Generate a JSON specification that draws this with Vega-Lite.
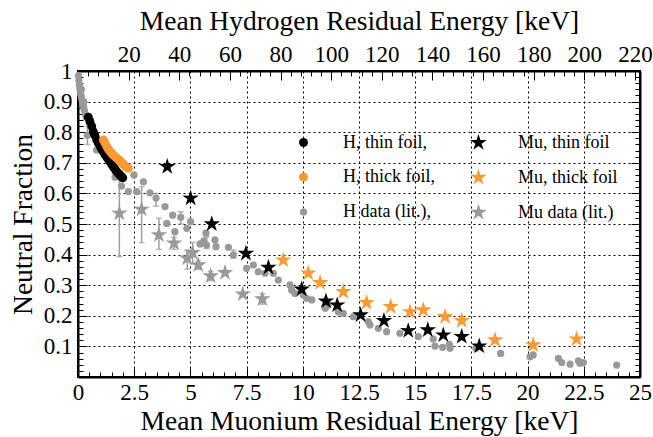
{
  "$schema": "https://vega.github.io/schema/vega-lite/v6.json",
  "width": 562,
  "height": 306,
  "autosize": "none",
  "padding": {"left": 78, "top": 71, "right": 13, "bottom": 60},
  "background": "white",
  "config": {
    "view": {"stroke": "black", "strokeWidth": 2},
    "font": "Liberation Serif",
    "axis": {
      "domainColor": "black", "domainWidth": 2,
      "tickColor": "black", "tickWidth": 1,
      "labelFont": "Liberation Serif", "labelFontSize": 23, "labelColor": "black",
      "titleFont": "Liberation Serif", "titleFontSize": 27.5, "titleFontWeight": "normal", "titleColor": "black",
      "gridColor": "black", "gridDash": [2, 3], "gridWidth": 1,
      "labelOverlap": false, "labelFlush": false
    },
    "legend": {"labelFont": "Liberation Serif"}
  },
  "datasets": {
    "pts": [
      {"series": "H data (lit.),", "mu": 0.02, "nf": 0.985},
      {"series": "H data (lit.),", "mu": 0.04, "nf": 0.97},
      {"series": "H data (lit.),", "mu": 0.06, "nf": 0.955},
      {"series": "H data (lit.),", "mu": 0.08, "nf": 0.945},
      {"series": "H data (lit.),", "mu": 0.1, "nf": 0.935},
      {"series": "H data (lit.),", "mu": 0.12, "nf": 0.925},
      {"series": "H data (lit.),", "mu": 0.15, "nf": 0.915},
      {"series": "H data (lit.),", "mu": 0.18, "nf": 0.905},
      {"series": "H data (lit.),", "mu": 0.21, "nf": 0.895},
      {"series": "H data (lit.),", "mu": 0.24, "nf": 0.885},
      {"series": "H data (lit.),", "mu": 0.28, "nf": 0.872},
      {"series": "H data (lit.),", "mu": 0.32, "nf": 0.86},
      {"series": "H data (lit.),", "mu": 0.36, "nf": 0.85},
      {"series": "H data (lit.),", "mu": 0.25, "nf": 0.9},
      {"series": "H data (lit.),", "mu": 0.15, "nf": 0.94},
      {"series": "H data (lit.),", "mu": 0.42, "nf": 0.79, "lo": 0.76, "hi": 0.82},
      {"series": "H data (lit.),", "mu": 0.83, "nf": 0.742},
      {"series": "H data (lit.),", "mu": 1.65, "nf": 0.653},
      {"series": "H data (lit.),", "mu": 1.94, "nf": 0.624},
      {"series": "H data (lit.),", "mu": 2.24, "nf": 0.606},
      {"series": "H data (lit.),", "mu": 2.49, "nf": 0.66},
      {"series": "H data (lit.),", "mu": 2.61, "nf": 0.606},
      {"series": "H data (lit.),", "mu": 2.91, "nf": 0.638},
      {"series": "H data (lit.),", "mu": 3.2, "nf": 0.602},
      {"series": "H data (lit.),", "mu": 3.47, "nf": 0.585, "lo": 0.558, "hi": 0.6},
      {"series": "H data (lit.),", "mu": 3.87, "nf": 0.557},
      {"series": "H data (lit.),", "mu": 3.95, "nf": 0.502},
      {"series": "H data (lit.),", "mu": 4.21, "nf": 0.529},
      {"series": "H data (lit.),", "mu": 4.31, "nf": 0.475},
      {"series": "H data (lit.),", "mu": 4.57, "nf": 0.522, "lo": 0.5, "hi": 0.54},
      {"series": "H data (lit.),", "mu": 4.84, "nf": 0.486},
      {"series": "H data (lit.),", "mu": 5.01, "nf": 0.508},
      {"series": "H data (lit.),", "mu": 5.43, "nf": 0.435},
      {"series": "H data (lit.),", "mu": 5.6, "nf": 0.445},
      {"series": "H data (lit.),", "mu": 5.69, "nf": 0.47},
      {"series": "H data (lit.),", "mu": 5.72, "nf": 0.431, "lo": 0.42, "hi": 0.458},
      {"series": "H data (lit.),", "mu": 6.09, "nf": 0.448},
      {"series": "H data (lit.),", "mu": 6.14, "nf": 0.426},
      {"series": "H data (lit.),", "mu": 6.69, "nf": 0.424},
      {"series": "H data (lit.),", "mu": 6.91, "nf": 0.399, "lo": 0.388, "hi": 0.415},
      {"series": "H data (lit.),", "mu": 7.5, "nf": 0.355},
      {"series": "H data (lit.),", "mu": 7.8, "nf": 0.366},
      {"series": "H data (lit.),", "mu": 8.02, "nf": 0.344},
      {"series": "H data (lit.),", "mu": 8.32, "nf": 0.339},
      {"series": "H data (lit.),", "mu": 8.69, "nf": 0.339},
      {"series": "H data (lit.),", "mu": 8.91, "nf": 0.317},
      {"series": "H data (lit.),", "mu": 9.43, "nf": 0.301},
      {"series": "H data (lit.),", "mu": 9.5, "nf": 0.284},
      {"series": "H data (lit.),", "mu": 9.65, "nf": 0.273},
      {"series": "H data (lit.),", "mu": 10.02, "nf": 0.268},
      {"series": "H data (lit.),", "mu": 10.17, "nf": 0.257},
      {"series": "H data (lit.),", "mu": 10.4, "nf": 0.252},
      {"series": "H data (lit.),", "mu": 11.0, "nf": 0.225},
      {"series": "H data (lit.),", "mu": 11.13, "nf": 0.235},
      {"series": "H data (lit.),", "mu": 11.58, "nf": 0.213},
      {"series": "H data (lit.),", "mu": 11.8, "nf": 0.208},
      {"series": "H data (lit.),", "mu": 12.25, "nf": 0.197},
      {"series": "H data (lit.),", "mu": 12.91, "nf": 0.181},
      {"series": "H data (lit.),", "mu": 12.99, "nf": 0.17},
      {"series": "H data (lit.),", "mu": 13.36, "nf": 0.159},
      {"series": "H data (lit.),", "mu": 13.73, "nf": 0.148},
      {"series": "H data (lit.),", "mu": 14.32, "nf": 0.143},
      {"series": "H data (lit.),", "mu": 15.14, "nf": 0.132},
      {"series": "H data (lit.),", "mu": 15.8, "nf": 0.124},
      {"series": "H data (lit.),", "mu": 15.88, "nf": 0.101},
      {"series": "H data (lit.),", "mu": 16.22, "nf": 0.097},
      {"series": "H data (lit.),", "mu": 16.52, "nf": 0.107},
      {"series": "H data (lit.),", "mu": 16.55, "nf": 0.094},
      {"series": "H data (lit.),", "mu": 17.7, "nf": 0.094},
      {"series": "H data (lit.),", "mu": 18.8, "nf": 0.077},
      {"series": "H data (lit.),", "mu": 20.11, "nf": 0.066},
      {"series": "H data (lit.),", "mu": 20.25, "nf": 0.072},
      {"series": "H data (lit.),", "mu": 21.37, "nf": 0.061},
      {"series": "H data (lit.),", "mu": 21.52, "nf": 0.047},
      {"series": "H data (lit.),", "mu": 21.89, "nf": 0.042},
      {"series": "H data (lit.),", "mu": 22.26, "nf": 0.053},
      {"series": "H data (lit.),", "mu": 22.33, "nf": 0.045},
      {"series": "H data (lit.),", "mu": 22.48, "nf": 0.047},
      {"series": "H data (lit.),", "mu": 23.96, "nf": 0.039},
      {"series": "Mu data (lit.)", "mu": 1.84, "nf": 0.535, "lo": 0.393, "hi": 0.671},
      {"series": "Mu data (lit.)", "mu": 2.83, "nf": 0.548, "lo": 0.439, "hi": 0.622},
      {"series": "Mu data (lit.)", "mu": 3.6, "nf": 0.464, "lo": 0.417, "hi": 0.519},
      {"series": "Mu data (lit.)", "mu": 4.27, "nf": 0.437, "lo": 0.417, "hi": 0.457},
      {"series": "Mu data (lit.)", "mu": 4.86, "nf": 0.388, "lo": 0.352, "hi": 0.415},
      {"series": "Mu data (lit.)", "mu": 5.1, "nf": 0.406, "lo": 0.37, "hi": 0.44},
      {"series": "Mu data (lit.)", "mu": 5.35, "nf": 0.366, "lo": 0.352, "hi": 0.38},
      {"series": "Mu data (lit.)", "mu": 5.9, "nf": 0.33, "lo": 0.315, "hi": 0.345},
      {"series": "Mu data (lit.)", "mu": 6.54, "nf": 0.341},
      {"series": "Mu data (lit.)", "mu": 7.33, "nf": 0.271},
      {"series": "Mu data (lit.)", "mu": 8.2, "nf": 0.255, "lo": 0.238, "hi": 0.272},
      {"series": "H, thin foil,", "mu": 0.46, "nf": 0.849},
      {"series": "H, thin foil,", "mu": 0.53, "nf": 0.835},
      {"series": "H, thin foil,", "mu": 0.61, "nf": 0.82},
      {"series": "H, thin foil,", "mu": 0.68, "nf": 0.802},
      {"series": "H, thin foil,", "mu": 0.75, "nf": 0.79},
      {"series": "H, thin foil,", "mu": 0.83, "nf": 0.775},
      {"series": "H, thin foil,", "mu": 0.9, "nf": 0.765},
      {"series": "H, thin foil,", "mu": 0.98, "nf": 0.755},
      {"series": "H, thin foil,", "mu": 1.05, "nf": 0.745},
      {"series": "H, thin foil,", "mu": 1.13, "nf": 0.736},
      {"series": "H, thin foil,", "mu": 1.2, "nf": 0.727},
      {"series": "H, thin foil,", "mu": 1.28, "nf": 0.719},
      {"series": "H, thin foil,", "mu": 1.35, "nf": 0.711},
      {"series": "H, thin foil,", "mu": 1.42, "nf": 0.704},
      {"series": "H, thin foil,", "mu": 1.5, "nf": 0.695},
      {"series": "H, thin foil,", "mu": 1.57, "nf": 0.687},
      {"series": "H, thin foil,", "mu": 1.65, "nf": 0.679},
      {"series": "H, thin foil,", "mu": 1.72, "nf": 0.671},
      {"series": "H, thin foil,", "mu": 1.8, "nf": 0.665},
      {"series": "H, thin foil,", "mu": 1.87, "nf": 0.66},
      {"series": "H, thin foil,", "mu": 1.93, "nf": 0.655},
      {"series": "H, thin foil,", "mu": 1.99, "nf": 0.651},
      {"series": "H, thick foil,", "mu": 1.13, "nf": 0.775},
      {"series": "H, thick foil,", "mu": 1.2, "nf": 0.765},
      {"series": "H, thick foil,", "mu": 1.28, "nf": 0.753},
      {"series": "H, thick foil,", "mu": 1.35, "nf": 0.745},
      {"series": "H, thick foil,", "mu": 1.42, "nf": 0.738},
      {"series": "H, thick foil,", "mu": 1.5, "nf": 0.731},
      {"series": "H, thick foil,", "mu": 1.57, "nf": 0.725},
      {"series": "H, thick foil,", "mu": 1.65, "nf": 0.72},
      {"series": "H, thick foil,", "mu": 1.72, "nf": 0.715},
      {"series": "H, thick foil,", "mu": 1.8, "nf": 0.71},
      {"series": "H, thick foil,", "mu": 1.87, "nf": 0.707},
      {"series": "H, thick foil,", "mu": 1.95, "nf": 0.7},
      {"series": "H, thick foil,", "mu": 2.02, "nf": 0.695},
      {"series": "H, thick foil,", "mu": 2.09, "nf": 0.69},
      {"series": "H, thick foil,", "mu": 2.16, "nf": 0.686},
      {"series": "H, thick foil,", "mu": 2.24, "nf": 0.682},
      {"series": "Mu, thin foil", "mu": 3.97, "nf": 0.687},
      {"series": "Mu, thin foil", "mu": 5.01, "nf": 0.584},
      {"series": "Mu, thin foil", "mu": 5.95, "nf": 0.5},
      {"series": "Mu, thin foil", "mu": 7.47, "nf": 0.404},
      {"series": "Mu, thin foil", "mu": 8.47, "nf": 0.358},
      {"series": "Mu, thin foil", "mu": 9.95, "nf": 0.287},
      {"series": "Mu, thin foil", "mu": 11.03, "nf": 0.248},
      {"series": "Mu, thin foil", "mu": 11.53, "nf": 0.235},
      {"series": "Mu, thin foil", "mu": 12.57, "nf": 0.203},
      {"series": "Mu, thin foil", "mu": 13.61, "nf": 0.184},
      {"series": "Mu, thin foil", "mu": 14.69, "nf": 0.151},
      {"series": "Mu, thin foil", "mu": 15.56, "nf": 0.154},
      {"series": "Mu, thin foil", "mu": 16.25, "nf": 0.137},
      {"series": "Mu, thin foil", "mu": 17.07, "nf": 0.132},
      {"series": "Mu, thin foil", "mu": 17.85, "nf": 0.101},
      {"series": "Mu, thick foil", "mu": 9.13, "nf": 0.382},
      {"series": "Mu, thick foil", "mu": 10.24, "nf": 0.339},
      {"series": "Mu, thick foil", "mu": 10.77, "nf": 0.308},
      {"series": "Mu, thick foil", "mu": 11.8, "nf": 0.279},
      {"series": "Mu, thick foil", "mu": 12.84, "nf": 0.243},
      {"series": "Mu, thick foil", "mu": 13.91, "nf": 0.23},
      {"series": "Mu, thick foil", "mu": 14.77, "nf": 0.213},
      {"series": "Mu, thick foil", "mu": 15.36, "nf": 0.219},
      {"series": "Mu, thick foil", "mu": 16.33, "nf": 0.197},
      {"series": "Mu, thick foil", "mu": 17.07, "nf": 0.184},
      {"series": "Mu, thick foil", "mu": 18.55, "nf": 0.121},
      {"series": "Mu, thick foil", "mu": 20.25, "nf": 0.105},
      {"series": "Mu, thick foil", "mu": 22.18, "nf": 0.124}
    ]
  },
  "layer": [
    {
      "data": {"name": "pts"},
      "encoding": {
        "x": {
          "field": "mu", "type": "quantitative",
          "scale": {"domain": [0, 25], "nice": false},
          "axis": {
            "orient": "bottom",
            "title": "Mean Muonium Residual Energy [keV]",
            "labelFont": "Liberation Serif", "titleFont": "Liberation Serif",
            "values": [0,0.5,1,1.5,2,2.5,3,3.5,4,4.5,5,5.5,6,6.5,7,7.5,8,8.5,9,9.5,10,10.5,11,11.5,12,12.5,13,13.5,14,14.5,15,15.5,16,16.5,17,17.5,18,18.5,19,19.5,20,20.5,21,21.5,22,22.5,23,23.5,24,24.5,25],
            "labelExpr": "datum.value % 2.5 != 0 ? '' : format(datum.value, '~g')",
            "tickSize": {"condition": {"test": "datum.value % 2.5 != 0", "value": -5}, "value": -9},
            "labelPadding": 13,
            "titlePadding": -1,
            "grid": true,
            "gridOpacity": {"condition": {"test": "datum.value % 2.5 != 0 || datum.value == 0 || datum.value == 25", "value": 0}, "value": 1}
          }
        }
      },
      "layer": [
        {
          "transform": [{"filter": "isValid(datum.lo)"}],
          "mark": {"type": "errorbar", "ticks": {"size": 6, "color": "#a0a0a0", "thickness": 1.5}, "rule": {"color": "#a0a0a0", "strokeWidth": 1.5}},
          "encoding": {
            "y": {
              "field": "lo", "type": "quantitative",
              "scale": {"domain": [0, 1], "nice": false},
              "axis": {
                "orient": "left",
                "title": "Neutral Fraction",
                "labelFont": "Liberation Serif", "titleFont": "Liberation Serif",
                "values": [0,0.02,0.04,0.06,0.08,0.1,0.12,0.14,0.16,0.18,0.2,0.22,0.24,0.26,0.28,0.3,0.32,0.34,0.36,0.38,0.4,0.42,0.44,0.46,0.48,0.5,0.52,0.54,0.56,0.58,0.6,0.62,0.64,0.66,0.68,0.7,0.72,0.74,0.76,0.78,0.8,0.82,0.84,0.86,0.88,0.9,0.92,0.94,0.96,0.98,1],
                "labelExpr": "(round(datum.value*50) % 5 != 0 || datum.value == 0) ? '' : (datum.value == 1 ? '1' : format(datum.value, '.1f'))",
                "tickSize": {"condition": {"test": "round(datum.value*50) % 5 != 0", "value": -5}, "value": -9},
                "labelPadding": 15,
                "titlePadding": 6,
                "grid": true,
                "gridOpacity": {"condition": {"test": "round(datum.value*50) % 5 != 0 || datum.value == 0 || datum.value == 1", "value": 0}, "value": 1}
              }
            },
            "y2": {"field": "hi"}
          }
        },
        {
          "mark": {"type": "point", "filled": true, "opacity": 1, "strokeWidth": 0},
          "encoding": {
            "y": {
              "field": "nf", "type": "quantitative",
              "scale": {"domain": [0, 1], "nice": false},
              "axis": {
                "orient": "left",
                "title": "Neutral Fraction",
                "labelFont": "Liberation Serif", "titleFont": "Liberation Serif",
                "values": [0,0.02,0.04,0.06,0.08,0.1,0.12,0.14,0.16,0.18,0.2,0.22,0.24,0.26,0.28,0.3,0.32,0.34,0.36,0.38,0.4,0.42,0.44,0.46,0.48,0.5,0.52,0.54,0.56,0.58,0.6,0.62,0.64,0.66,0.68,0.7,0.72,0.74,0.76,0.78,0.8,0.82,0.84,0.86,0.88,0.9,0.92,0.94,0.96,0.98,1],
                "labelExpr": "(round(datum.value*50) % 5 != 0 || datum.value == 0) ? '' : (datum.value == 1 ? '1' : format(datum.value, '.1f'))",
                "tickSize": {"condition": {"test": "round(datum.value*50) % 5 != 0", "value": -5}, "value": -9},
                "labelPadding": 15,
                "titlePadding": 6,
                "grid": true,
                "gridOpacity": {"condition": {"test": "round(datum.value*50) % 5 != 0 || datum.value == 0 || datum.value == 1", "value": 0}, "value": 1}
              }
            },
            "color": {
              "field": "series", "type": "nominal",
              "scale": {
                "domain": ["H, thin foil,", "H, thick foil,", "H data (lit.),", "Mu, thin foil", "Mu, thick foil", "Mu data (lit.)"],
                "range": ["#000000", "#ff9933", "#999999", "#000000", "#ff9933", "#999999"]
              },
              "legend": {
                "orient": "none", "legendX": 216, "legendY": 62,
                "title": null, "columns": 2, "columnPadding": 34, "rowPadding": 16,
                "labelFont": "Liberation Serif", "labelFontSize": 18, "labelColor": "black",
                "labelOffset": 30, "labelLimit": 300
              }
            },
            "shape": {
              "field": "series", "type": "nominal",
              "scale": {
                "domain": ["H, thin foil,", "H, thick foil,", "H data (lit.),", "Mu, thin foil", "Mu, thick foil", "Mu data (lit.)"],
                "range": ["circle", "circle", "circle", "M0,-1L0.223,-0.307L0.951,-0.309L0.361,0.117L0.588,0.809L0,0.38L-0.588,0.809L-0.361,0.117L-0.951,-0.309L-0.223,-0.307Z", "M0,-1L0.223,-0.307L0.951,-0.309L0.361,0.117L0.588,0.809L0,0.38L-0.588,0.809L-0.361,0.117L-0.951,-0.309L-0.223,-0.307Z", "M0,-1L0.223,-0.307L0.951,-0.309L0.361,0.117L0.588,0.809L0,0.38L-0.588,0.809L-0.361,0.117L-0.951,-0.309L-0.223,-0.307Z"]
              }
            },
            "size": {
              "field": "series", "type": "nominal",
              "scale": {
                "type": "ordinal",
                "domain": ["H, thin foil,", "H, thick foil,", "H data (lit.),", "Mu, thin foil", "Mu, thick foil", "Mu data (lit.)"],
                "range": [80, 80, 52, 300, 300, 300]
              }
            }
          }
        }
      ]
    },
    {
      "data": {"values": [{"h": 0, "f": 0}, {"h": 222, "f": 1}]},
      "mark": {"type": "point", "opacity": 0},
      "encoding": {
        "x": {
          "field": "h", "type": "quantitative",
          "scale": {"domain": [0, 222], "nice": false},
          "axis": {
            "orient": "top",
            "title": "Mean Hydrogen Residual Energy [keV]",
            "labelFont": "Liberation Serif", "titleFont": "Liberation Serif",
            "values": [0,4,8,12,16,20,24,28,32,36,40,44,48,52,56,60,64,68,72,76,80,84,88,92,96,100,104,108,112,116,120,124,128,132,136,140,144,148,152,156,160,164,168,172,176,180,184,188,192,196,200,204,208,212,216,220],
            "labelExpr": "(datum.value % 20 == 0 && datum.value > 0) ? datum.value + '' : ''",
            "tickSize": {"condition": {"test": "datum.value % 20 != 0", "value": -5}, "value": -9},
            "labelPadding": 14,
            "titlePadding": 4,
            "grid": false
          }
        },
        "y": {
          "field": "f", "type": "quantitative",
          "scale": {"domain": [0, 1], "nice": false},
          "axis": {
            "orient": "right",
            "title": null,
            "labels": false,
            "values": [0,0.02,0.04,0.06,0.08,0.1,0.12,0.14,0.16,0.18,0.2,0.22,0.24,0.26,0.28,0.3,0.32,0.34,0.36,0.38,0.4,0.42,0.44,0.46,0.48,0.5,0.52,0.54,0.56,0.58,0.6,0.62,0.64,0.66,0.68,0.7,0.72,0.74,0.76,0.78,0.8,0.82,0.84,0.86,0.88,0.9,0.92,0.94,0.96,0.98,1],
            "tickSize": {"condition": {"test": "round(datum.value*50) % 5 != 0", "value": -5}, "value": -9},
            "grid": false
          }
        }
      }
    }
  ],
  "resolve": {
    "scale": {"x": "independent", "y": "independent"},
    "axis": {"x": "independent", "y": "independent"}
  }
}
